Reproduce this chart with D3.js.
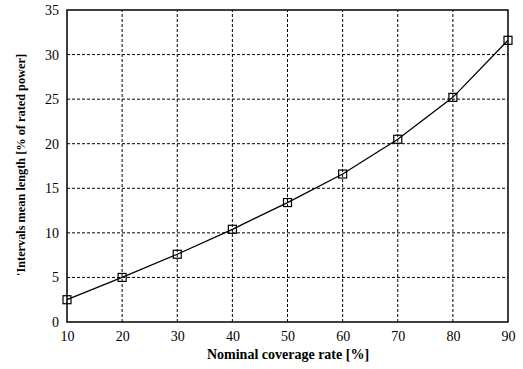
<!DOCTYPE html>
<html lang="en">
<head>
  <meta charset="UTF-8">
  <title>Intervals mean length</title>
  <script src="https://d3js.org/d3.v7.min.js"></script>
  <style>
    body { margin: 0; background: #fff; }
  </style>
</head>
<body>
  <script>
    // Data
    const coverage = [10, 20, 30, 40, 50, 60, 70, 80, 90];
    const meanLength = [2.5, 5.0, 7.6, 10.4, 13.4, 16.6, 20.5, 25.2, 31.6];
    const xTicks = [10, 20, 30, 40, 50, 60, 70, 80, 90];
    const yTicks = [0, 5, 10, 15, 20, 25, 30, 35];

    const FONT = '"Liberation Serif", "Times New Roman", serif';
    const W = 523, H = 369;
    const m = { left: 67, right: 15, top: 10, bottom: 47 };

    const svg = d3.select("body").append("svg")
      .attr("width", W).attr("height", H);

    const x = d3.scaleLinear().domain([10, 90]).range([m.left, W - m.right]);
    const y = d3.scaleLinear().domain([0, 35]).range([H - m.bottom, m.top]);

    // grid
    const grid = svg.append("g")
      .attr("stroke", "#000").attr("stroke-width", 1).attr("stroke-dasharray", "3,2");
    grid.selectAll("line.v").data(xTicks.slice(1, -1)).enter().append("line")
      .attr("x1", d => x(d)).attr("x2", d => x(d))
      .attr("y1", y(0)).attr("y2", y(35));
    grid.selectAll("line.h").data(yTicks.slice(1, -1)).enter().append("line")
      .attr("x1", x(10)).attr("x2", x(90))
      .attr("y1", d => y(d)).attr("y2", d => y(d));

    // frame
    svg.append("rect")
      .attr("x", x(10)).attr("y", y(35))
      .attr("width", x(90) - x(10)).attr("height", y(0) - y(35))
      .attr("fill", "none").attr("stroke", "#000").attr("stroke-width", 1.5);

    // tick labels
    const xAxis = d3.axisBottom(x).tickValues(xTicks).tickSize(0).tickPadding(9);
    svg.append("g").attr("transform", `translate(0,${y(0)})`).call(xAxis)
      .call(g => g.select(".domain").remove())
      .selectAll("text").attr("font-size", 14).style("font-family", FONT).attr("fill", "#000");

    const yAxis = d3.axisLeft(y).tickValues(yTicks).tickSize(0).tickPadding(8);
    svg.append("g").attr("transform", `translate(${x(10)},0)`).call(yAxis)
      .call(g => g.select(".domain").remove())
      .selectAll("text").attr("font-size", 14).style("font-family", FONT).attr("fill", "#000");

    // line
    const pts = coverage.map((c, i) => [c, meanLength[i]]);
    svg.append("path")
      .datum(pts)
      .attr("fill", "none").attr("stroke", "#000").attr("stroke-width", 1.3)
      .attr("d", d3.line().x(d => x(d[0])).y(d => y(d[1])));

    // markers
    const s = 8;
    svg.selectAll("rect.mk").data(pts).enter().append("rect")
      .attr("class", "mk")
      .attr("x", d => x(d[0]) - s / 2).attr("y", d => y(d[1]) - s / 2)
      .attr("width", s).attr("height", s)
      .attr("fill", "none").attr("stroke", "#000").attr("stroke-width", 1.2);

    // axis titles
    svg.append("text")
      .attr("x", 288).attr("y", 359)
      .attr("text-anchor", "middle").attr("font-size", 14).attr("font-weight", "bold")
      .style("font-family", FONT)
      .text("Nominal coverage rate [%]");

    svg.append("text")
      .attr("transform", `translate(25,165) rotate(-90)`)
      .attr("text-anchor", "middle").attr("font-size", 12.3).attr("font-weight", "bold")
      .style("font-family", FONT)
      .text("'Intervals mean length [% of rated power]");
  </script>
</body>
</html>
